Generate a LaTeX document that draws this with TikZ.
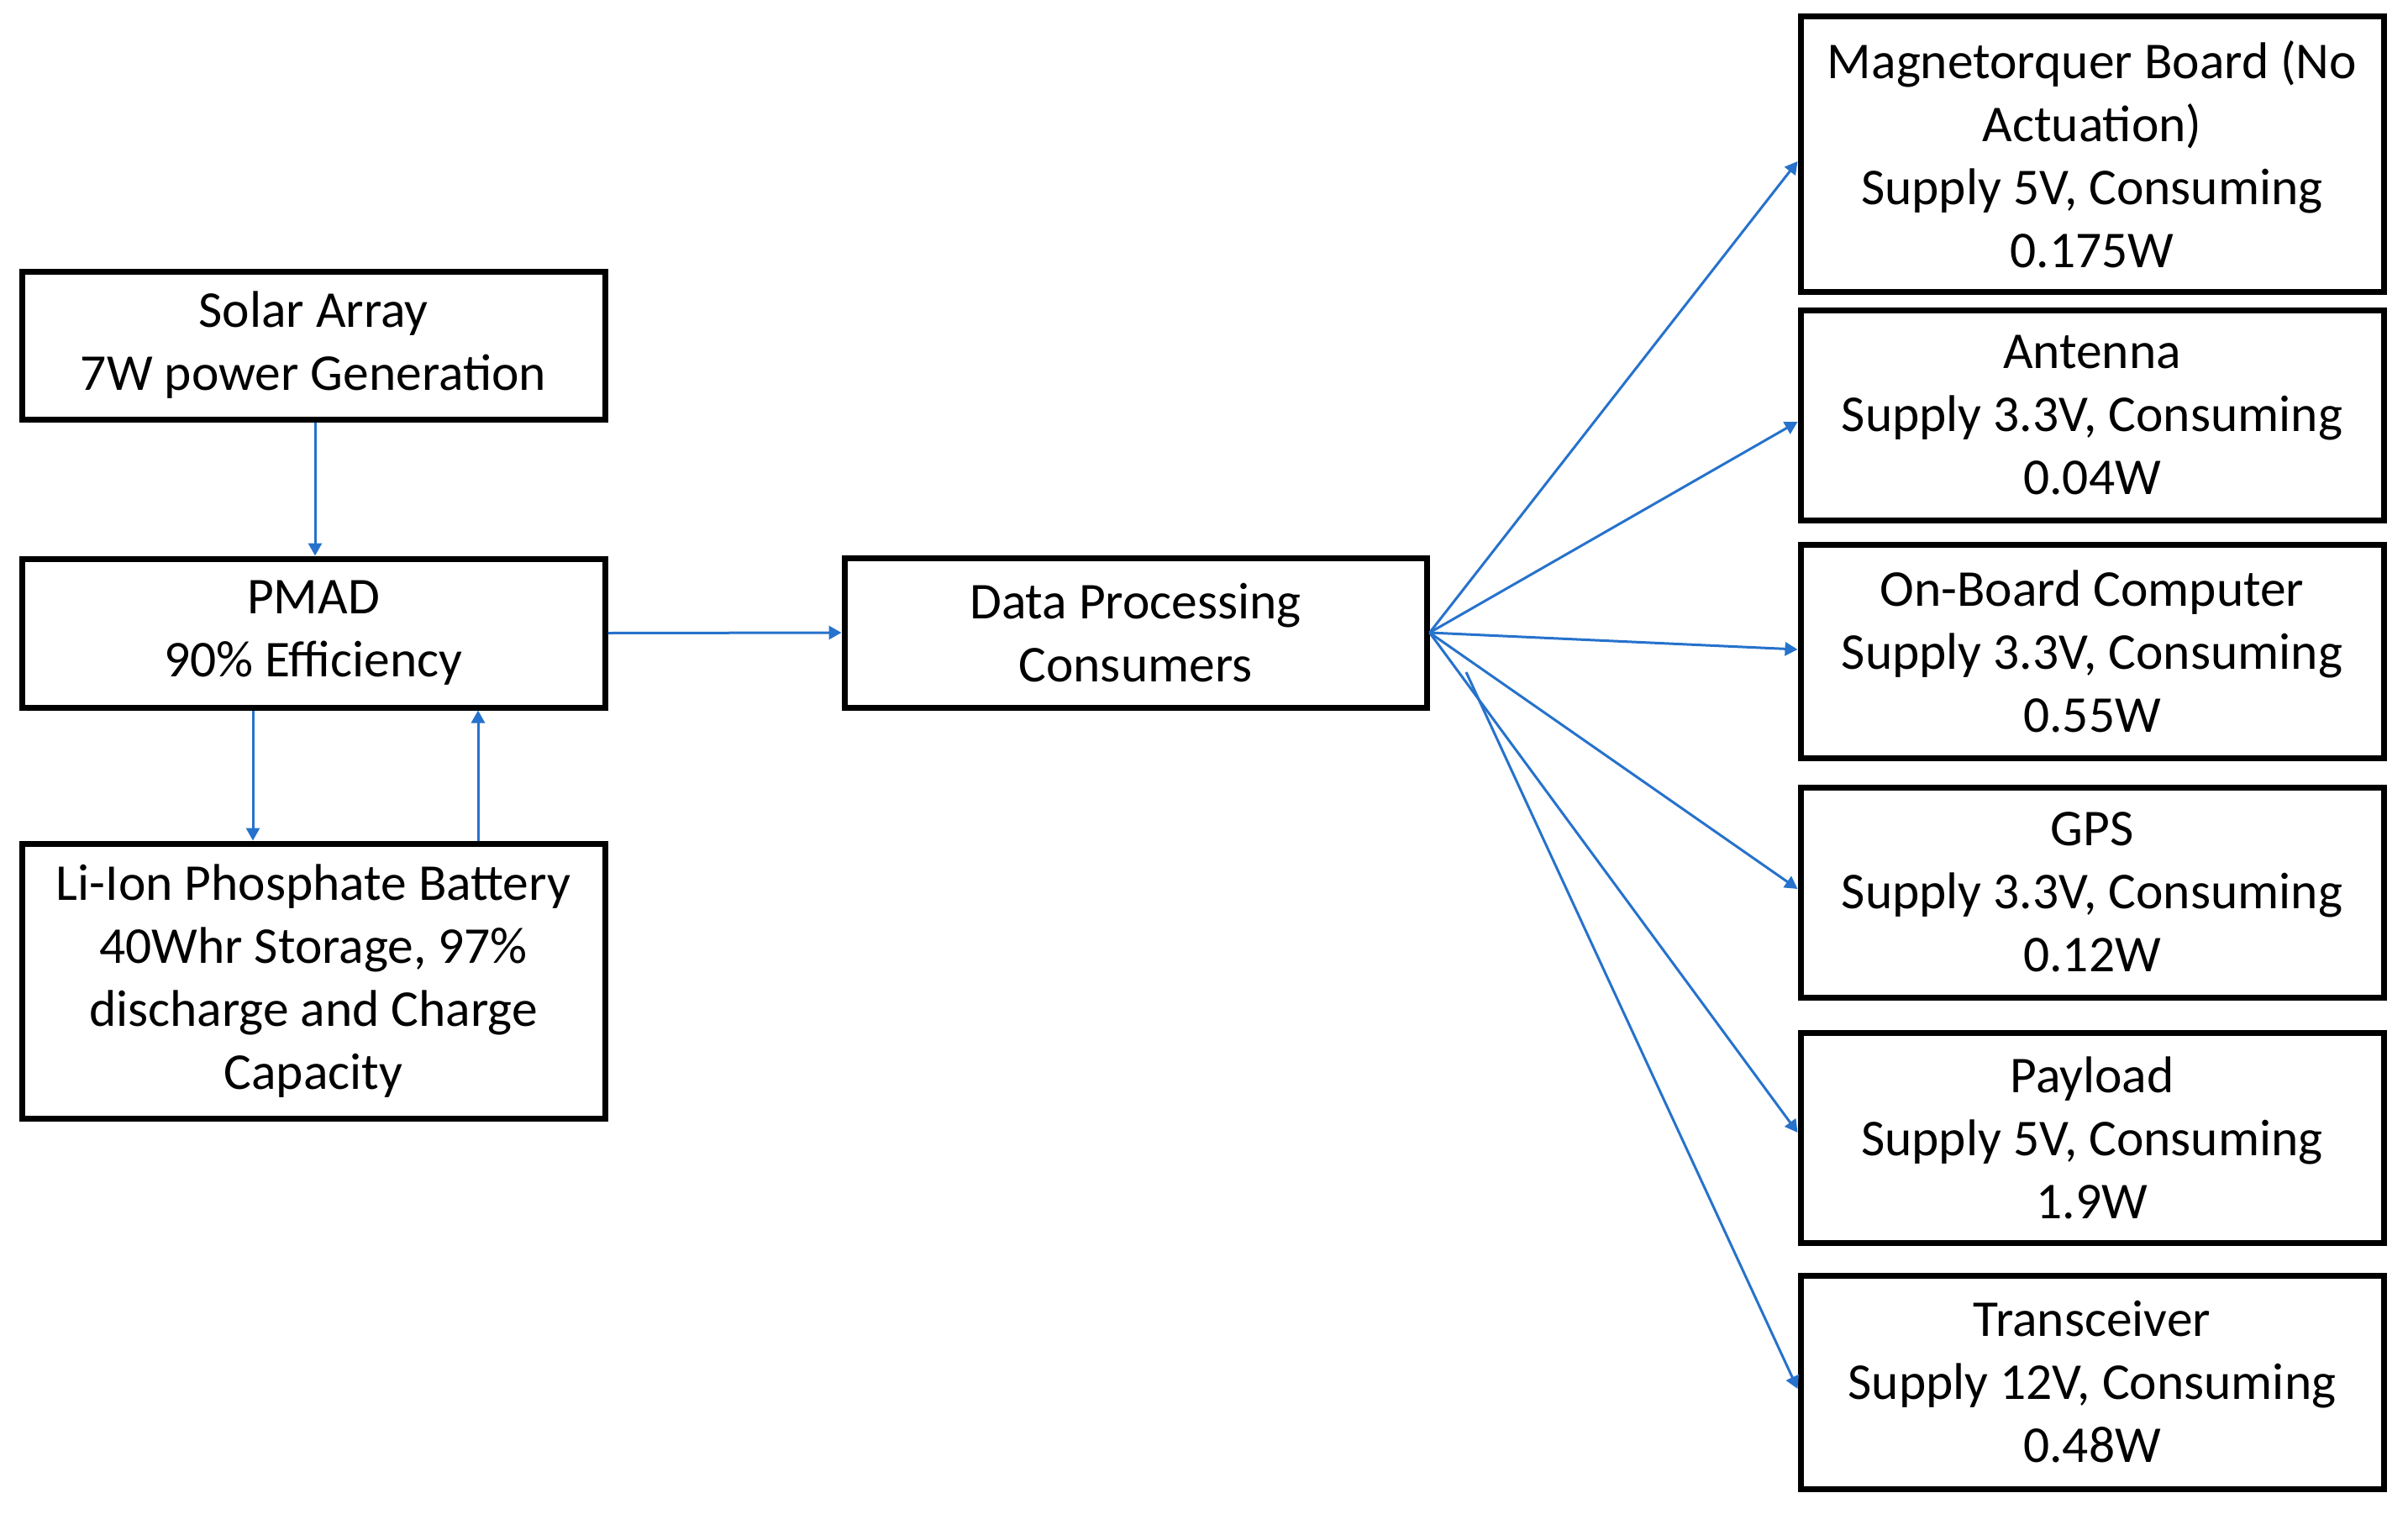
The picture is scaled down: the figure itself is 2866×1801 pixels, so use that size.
\documentclass[tikz,border=0pt]{standalone}
\usepackage{fontspec}
\setmainfont{Carlito}
\usetikzlibrary{arrows.meta,calc}
\definecolor{linkblue}{RGB}{38,114,204}
\begin{document}
\begin{tikzpicture}[x=1pt,y=-1pt,
  box/.style={draw=black, line width=7pt, fill=white, inner sep=0pt, align=center,
    font=\fontsize{61.5}{75}\selectfont},
  conn/.style={draw=linkblue, line width=3pt, -{Triangle[length=15pt,width=16pt]}}]
\useasboundingbox (0,0) rectangle (2866,1801);
\fill[white] (0,0) rectangle (2866,1801);

\node[box, minimum width=694pt, minimum height=176pt] (solar) at (373,411) {Solar Array\\7W power Generation};
\node[box, minimum width=694pt, minimum height=177pt] (pmad) at (373,753.5) {PMAD\\90\% Efficiency};
\node[box, minimum width=694pt, minimum height=327pt] (batt) at (373,1167.5) {Li-Ion Phosphate Battery\\40Whr Storage, 97\%\\discharge and Charge\\Capacity};
\node[box, minimum width=693pt, minimum height=178pt] (dp) at (1351.5,753) {Data Processing\\Consumers};

\node[box, minimum width=694pt, minimum height=327pt] (mag) at (2490,183.5) {Magnetorquer Board (No\\Actuation)\\Supply 5V, Consuming\\0.175W};
\node[box, minimum width=694pt, minimum height=250pt] (ant) at (2490,494) {Antenna\\Supply 3.3V, Consuming\\0.04W};
\node[box, minimum width=694pt, minimum height=254pt] (obc) at (2490,775) {On-Board Computer\\Supply 3.3V, Consuming\\0.55W};
\node[box, minimum width=694pt, minimum height=250pt] (gps) at (2490,1062) {GPS\\Supply 3.3V, Consuming\\0.12W};
\node[box, minimum width=694pt, minimum height=250pt] (pay) at (2490,1354) {Payload\\Supply 5V, Consuming\\1.9W};
\node[box, minimum width=694pt, minimum height=254pt] (trx) at (2490,1645) {Transceiver\\Supply 12V, Consuming\\0.48W};

\coordinate (tstart) at (1745,800);

\draw[conn] ([xshift=2pt]solar.south) -- ([xshift=2pt]pmad.north);
\draw[conn] ([xshift=-72pt]pmad.south) -- ([xshift=-72pt]batt.north);
\draw[conn] ([xshift=196pt]batt.north) -- ([xshift=196pt]pmad.south);
\draw[conn] (pmad.east) -- (dp.west);

\draw[conn] (dp.east) -- ([yshift=-8.5pt]mag.west);
\draw[conn] (dp.east) -- ([yshift=-8pt]ant.west);
\draw[conn] (dp.east) -- ([yshift=2pt]obc.west);
\draw[conn] (dp.east) -- ([yshift=4pt]gps.west);
\draw[conn] (dp.east) -- ([yshift=6pt]pay.west);
\draw[conn] (tstart) -- ([yshift=-8pt]trx.west);
\end{tikzpicture}
\end{document}
